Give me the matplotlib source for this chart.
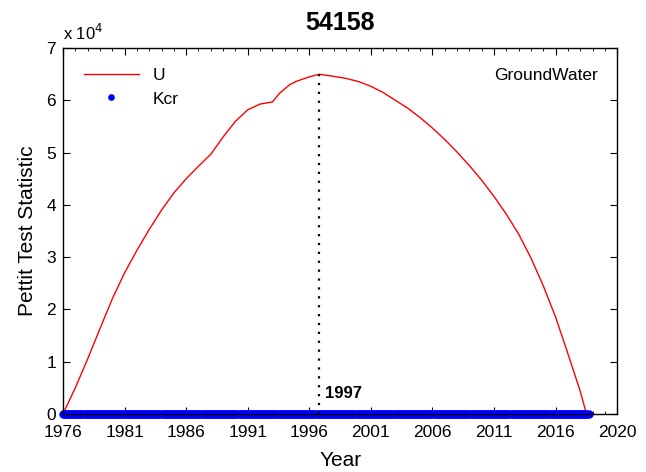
import numpy as np
import matplotlib
matplotlib.use("Agg")
import matplotlib.pyplot as plt
from matplotlib.ticker import FuncFormatter, MultipleLocator

plt.rcParams['font.family'] = ['Liberation Sans', 'DejaVu Sans']

# ---- data ----
station = '54158'
u_years = [1976.0, 1977, 1978, 1979, 1980, 1981, 1982, 1983, 1984, 1985,
           1986, 1987, 1988, 1989, 1990, 1991, 1992, 1993, 1993.6, 1994.4,
           1995, 1996, 1996.8, 1998, 1999, 2000, 2001, 2002, 2003, 2004,
           2005, 2006, 2007, 2008, 2009, 2010, 2011, 2012, 2013, 2014,
           2015, 2016, 2017, 2018, 2018.5]
u_vals = [0, 5000, 10500, 16300, 22000, 27000, 31300, 35300, 39000, 42300,
          45000, 47400, 49700, 53000, 56000, 58200, 59300, 59700, 61400, 63000,
          63700, 64500, 65000, 64600, 64200, 63600, 62700, 61500, 60000, 58500,
          56700, 54700, 52500, 50100, 47500, 44700, 41600, 38200, 34400, 29800,
          24500, 18500, 11500, 4300, 0]

kcr_value = 0          # critical value drawn along the bottom
kcr_start, kcr_end = 1976.0, 2018.7
change_year = 1996.8   # Pettitt change point
change_label = '1997'

tick_pos = [1976, 1981, 1986, 1991, 1996, 2001, 2006, 2011, 2016, 2021]
tick_lab = ['1976', '1981', '1986', '1991', '1996', '2001', '2006', '2011', '2016', '2020']

# monthly sample positions for the Kcr markers
kcr_years = np.arange(kcr_start, kcr_end, 1 / 12)
kcr_vals = np.full(len(kcr_years), kcr_value)

# ---- figure ----
fig = plt.figure(figsize=(6.46, 4.72), dpi=100)
ax = fig.add_axes([0.0975, 0.123, 0.858, 0.775])

ax.plot(u_years, u_vals, color='#ff0000', linewidth=1.0, label='U')
ax.plot(kcr_years, kcr_vals, linestyle='none', marker='o', markersize=6,
        color='#0000ff', markeredgewidth=0, label='Kcr', clip_on=False)

peak = max(u_vals)
ax.plot([change_year, change_year], [0, peak], color='black',
        linestyle=(0, (1, 3)), linewidth=1.6)
ax.text(change_year + 0.5, 2500, change_label, fontsize=12,
        fontweight='bold', ha='left', va='bottom')

ax.set_xlim(1976, 2021)
ax.set_ylim(0, 70000)
ax.set_xticks(tick_pos)
ax.set_xticklabels(tick_lab)
ax.xaxis.set_minor_locator(MultipleLocator(1))
ax.set_yticks(np.arange(0, 70001, 10000))
ax.yaxis.set_major_formatter(FuncFormatter(lambda v, p: f'{v / 1e4:g}'))

ax.tick_params(which='both', direction='in', top=True, right=True,
               labelsize=12.5)
ax.tick_params(axis='x', pad=8)
ax.tick_params(axis='y', pad=5)
ax.tick_params(which='major', length=5)
ax.tick_params(which='minor', length=2.5)
for s in ax.spines.values():
    s.set_linewidth(1.0)

ax.text(0.0, 1.015, 'x 10$^4$', transform=ax.transAxes, fontsize=12,
        ha='left', va='bottom')

ax.set_title(station, fontsize=18, fontweight='bold', pad=13)
ax.set_xlabel('Year', fontsize=15, labelpad=8)
ax.set_ylabel('Pettit Test Statistic', fontsize=15, labelpad=7)

ax.text(0.965, 0.926, 'GroundWater', transform=ax.transAxes, fontsize=12.5,
        ha='right', va='center')

leg = ax.legend(loc='upper left', bbox_to_anchor=(0.012, 0.985), frameon=False,
                fontsize=12.5, handlelength=3.2, handletextpad=0.8,
                borderaxespad=0.4, labelspacing=0.5, markerscale=0.8)

fig.savefig('out.png', dpi=100)
